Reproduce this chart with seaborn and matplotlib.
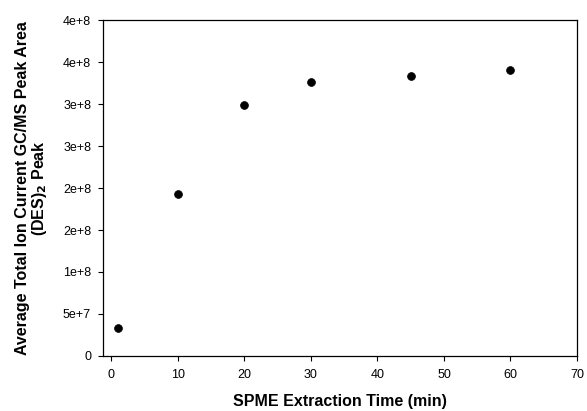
import matplotlib
matplotlib.use("Agg")
import matplotlib.pyplot as plt
import seaborn as sns
import pandas as pd

# Data
extraction_time = [1, 10, 20, 30, 45, 60]
peak_area = [0.33e8, 1.93e8, 2.99e8, 3.26e8, 3.33e8, 3.41e8]

x_ticks = [0, 10, 20, 30, 40, 50, 60, 70]
y_ticks = [0, 0.5e8, 1.0e8, 1.5e8, 2.0e8, 2.5e8, 3.0e8, 3.5e8, 4.0e8]
y_tick_labels = ["0", "5e+7", "1e+8", "2e+8", "2e+8", "3e+8", "3e+8", "4e+8", "4e+8"]

df = pd.DataFrame({"time": extraction_time, "area": peak_area})

sns.set_theme(style="ticks")
plt.rcParams["font.family"] = ["Liberation Sans", "DejaVu Sans"]
plt.rcParams["text.color"] = "black"
plt.rcParams["axes.labelcolor"] = "black"

fig = plt.figure(figsize=(5.87, 4.11), dpi=100)
ax = fig.add_axes([0.1755, 0.134, 0.8075, 0.817])

sns.scatterplot(data=df, x="time", y="area", ax=ax, color="black",
                s=32, edgecolor="black", linewidth=0.5, zorder=3)

ax.set_xlim(-1.25, 70)
ax.set_ylim(0, 4e8)
ax.set_xticks(x_ticks)
ax.set_xticklabels([str(t) for t in x_ticks])
ax.set_yticks(y_ticks)
ax.set_yticklabels(y_tick_labels)

for sp in ax.spines.values():
    sp.set_visible(True)
    sp.set_color("black")
    sp.set_linewidth(0.9)

ax.tick_params(axis="both", direction="out", length=3.6, width=0.8,
               colors="black", labelsize=9)
ax.tick_params(axis="x", pad=6)
ax.tick_params(axis="y", pad=5)

ax.set_xlabel("SPME Extraction Time (min)", fontsize=11.5, fontweight="bold",
              labelpad=9)
ax.set_ylabel("Average Total Ion Current GC/MS Peak Area\n(DES)$_\\mathbf{2}$ Peak",
              fontsize=11.5, fontweight="bold", labelpad=10, linespacing=1.0)

fig.savefig("out.png", dpi=100)
